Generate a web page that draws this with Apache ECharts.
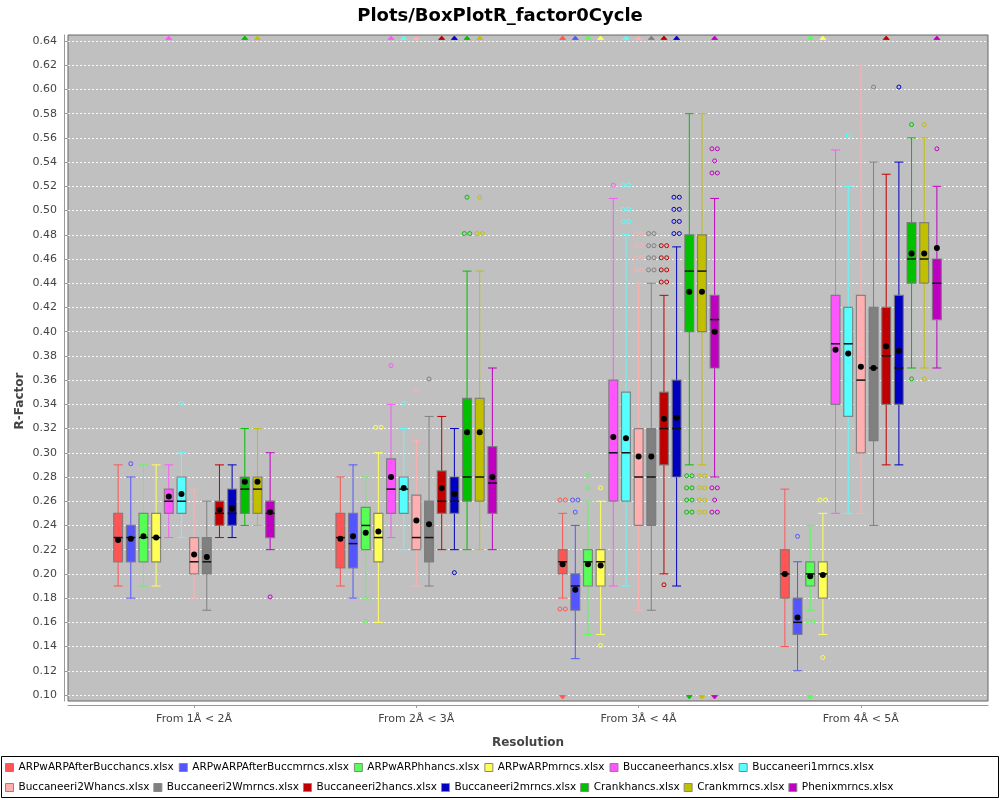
<!DOCTYPE html>
<html><head><meta charset="utf-8">
<script src="https://cdn.jsdelivr.net/npm/echarts@6/dist/echarts.min.js"></script>
<style>html,body{margin:0;padding:0;background:#fff}#c{width:1000px;height:800px}</style>
</head><body><div id="c"></div>
<script>
const categories = ['From 1Å < 2Å', 'From 2Å < 3Å', 'From 3Å < 4Å', 'From 4Å < 5Å'];
const seriesNames = ['ARPwARPAfterBucchancs.xlsx','ARPwARPAfterBuccmrncs.xlsx','ARPwARPhhancs.xlsx','ARPwARPmrncs.xlsx','Buccaneerhancs.xlsx','Buccaneeri1mrncs.xlsx','Buccaneeri2Whancs.xlsx','Buccaneeri2Wmrncs.xlsx','Buccaneeri2hancs.xlsx','Buccaneeri2mrncs.xlsx','Crankhancs.xlsx','Crankmrncs.xlsx','Phenixmrncs.xlsx'];
const seriesColors = ['#FF5555','#5555FF','#55FF55','#FFFF55','#FF55FF','#55FFFF','#FFAFAF','#808080','#C00000','#0000C0','#00C000','#C0C000','#C000C0'];
const yAxisMin = 0.10, yAxisMax = 0.64, yAxisStep = 0.02;

// rows = series (in seriesNames order), columns = categories
const whiskerLow = [
  [0.19,0.19,0.18,0.14],[0.18,0.18,0.13,0.12],[0.19,0.18,0.15,0.17],[0.19,0.16,0.15,0.15],
  [0.23,0.23,0.19,0.25],[0.23,0.22,0.19,0.25],[0.18,0.19,0.17,0.25],[0.17,0.19,0.17,0.24],
  [0.23,0.22,0.20,0.29],[0.23,0.22,0.19,0.29],[0.24,0.22,0.29,0.37],[0.24,0.22,0.29,0.37],
  [0.22,0.22,0.28,0.37]];
const q1 = [
  [0.21,0.205,0.20,0.18],[0.21,0.205,0.17,0.15],[0.21,0.22,0.19,0.19],[0.21,0.21,0.19,0.18],
  [0.25,0.25,0.26,0.34],[0.25,0.25,0.26,0.33],[0.20,0.22,0.24,0.30],[0.20,0.21,0.24,0.31],
  [0.24,0.25,0.29,0.34],[0.24,0.25,0.28,0.34],[0.25,0.26,0.40,0.44],[0.25,0.26,0.40,0.44],
  [0.23,0.25,0.37,0.41]];
const median = [
  [0.23,0.23,0.21,0.20],[0.23,0.225,0.19,0.16],[0.23,0.24,0.21,0.20],[0.23,0.23,0.21,0.20],
  [0.26,0.27,0.30,0.39],[0.26,0.27,0.30,0.39],[0.21,0.23,0.28,0.36],[0.21,0.23,0.28,0.37],
  [0.25,0.26,0.32,0.38],[0.25,0.26,0.32,0.37],[0.27,0.28,0.45,0.46],[0.27,0.28,0.45,0.46],
  [0.25,0.275,0.41,0.44]];
const q3 = [
  [0.25,0.25,0.22,0.22],[0.24,0.25,0.20,0.18],[0.25,0.255,0.22,0.21],[0.25,0.25,0.22,0.21],
  [0.27,0.295,0.36,0.43],[0.28,0.28,0.35,0.42],[0.23,0.265,0.32,0.43],[0.23,0.26,0.32,0.42],
  [0.26,0.285,0.35,0.42],[0.27,0.28,0.36,0.43],[0.28,0.345,0.48,0.49],[0.28,0.345,0.48,0.49],
  [0.26,0.305,0.43,0.46]];
const whiskerHigh = [
  [0.29,0.28,0.25,0.27],[0.28,0.29,0.24,0.21],[0.29,0.28,0.26,0.24],[0.29,0.30,0.26,0.25],
  [0.29,0.34,0.51,0.55],[0.30,0.32,0.48,0.52],[0.27,0.31,0.44,0.62],[0.26,0.33,0.44,0.54],
  [0.29,0.33,0.43,0.53],[0.29,0.32,0.47,0.54],[0.32,0.45,0.58,0.56],[0.32,0.45,0.58,0.56],
  [0.30,0.37,0.51,0.52]];
const mean = [
  [0.228,0.229,0.208,0.200],[0.229,0.231,0.187,0.164],[0.231,0.234,0.208,0.198],[0.230,0.235,0.207,0.199],
  [0.264,0.280,0.313,0.385],[0.266,0.271,0.312,0.382],[0.216,0.244,0.297,0.371],[0.214,0.241,0.297,0.370],
  [0.253,0.271,0.328,0.388],[0.254,0.266,0.329,0.384],[0.276,0.317,0.433,0.4645],[0.276,0.317,0.433,0.4645],
  [0.251,0.280,0.400,0.469]];
// outliers: [seriesIndex, categoryIndex, value, how many at that value]
const outliers = [
  [1,0,0.291,1],[5,0,0.341,1],[12,0,0.181,1],
  [2,1,0.161,1],[3,1,0.321,2],[4,1,0.372,1],[5,1,0.341,1],[6,1,0.352,1],[7,1,0.361,1],[9,1,0.201,1],
  [10,1,0.511,1],[10,1,0.481,2],[11,1,0.511,1],[11,1,0.481,2],
  [0,2,0.261,2],[0,2,0.171,2],[1,2,0.261,2],[1,2,0.251,1],[2,2,0.281,1],[2,2,0.271,1],[3,2,0.271,1],[3,2,0.141,1],
  [4,2,0.521,1],[5,2,0.521,2],[5,2,0.501,2],[5,2,0.491,2],
  [6,2,0.481,2],[6,2,0.471,2],[6,2,0.461,2],[6,2,0.451,2],
  [7,2,0.481,2],[7,2,0.471,2],[7,2,0.461,2],[7,2,0.451,2],
  [8,2,0.191,1],[8,2,0.471,2],[8,2,0.461,2],[8,2,0.451,2],[8,2,0.441,2],
  [9,2,0.511,2],[9,2,0.501,2],[9,2,0.491,2],[9,2,0.481,2],
  [10,2,0.281,2],[10,2,0.271,2],[10,2,0.261,2],[10,2,0.251,2],
  [11,2,0.281,2],[11,2,0.271,2],[11,2,0.261,2],[11,2,0.251,2],
  [12,2,0.551,2],[12,2,0.541,1],[12,2,0.531,2],[12,2,0.271,2],[12,2,0.261,1],[12,2,0.251,2],
  [1,3,0.231,1],[2,3,0.161,2],[3,3,0.261,2],[3,3,0.131,1],[5,3,0.562,1],[7,3,0.602,1],[9,3,0.602,1],
  [10,3,0.571,1],[10,3,0.361,1],[11,3,0.571,1],[11,3,0.361,1],[12,3,0.551,1]];
// far outliers beyond the axis range: [seriesIndex, categoryIndex]
const farAbove = [[4,0],[10,0],[11,0],
  [4,1],[5,1],[6,1],[8,1],[9,1],[10,1],[11,1],
  [0,2],[1,2],[2,2],[3,2],[5,2],[6,2],[7,2],[8,2],[9,2],[12,2],
  [2,3],[3,3],[8,3],[12,3]];
const farBelow = [[0,2],[10,2],[11,2],[12,2],[2,3]];

const FONT = 'DejaVu Sans';
const nSeries = seriesNames.length;

function renderBox(si) {
  const col = seriesColors[si];
  return function (params, api) {
    const c = api.value(0);
    const band = api.size([1, 0])[0];
    const cx = api.coord([c, api.value(3)])[0];
    const x = cx + (si - (nSeries - 1) / 2) * band * 0.057;
    const bw = band * 0.040;
    const yLo = api.coord([c, api.value(1)])[1];
    const yQ1 = api.coord([c, api.value(2)])[1];
    const yMed = api.coord([c, api.value(3)])[1];
    const yQ3 = api.coord([c, api.value(4)])[1];
    const yHi = api.coord([c, api.value(5)])[1];
    const yMean = api.coord([c, api.value(6)])[1];
    const ch = [];
    const ln = (x1, y1, x2, y2, stroke, w) => ({type: 'line', shape: {x1, y1, x2, y2}, style: {stroke, lineWidth: w || 1}});
    ch.push(ln(x, yHi, x, yQ3, col));
    ch.push(ln(x, yQ1, x, yLo, col));
    ch.push(ln(x - bw / 2, yHi, x + bw / 2, yHi, col));
    ch.push(ln(x - bw / 2, yLo, x + bw / 2, yLo, col));
    ch.push({type: 'rect', shape: {x: x - bw / 2, y: yQ3, width: bw, height: yQ1 - yQ3},
      style: {fill: col, stroke: 'rgba(120,120,120,0.85)', lineWidth: 1.2}});
    ch.push(ln(x - bw / 2, yMed, x + bw / 2, yMed, '#111', 1.5));
    ch.push({type: 'circle', shape: {cx: x, cy: yMean, r: 3}, style: {fill: '#000'}});
    outliers.forEach(o => {
      if (o[0] !== si || o[1] !== c) return;
      const oy = api.coord([c, o[2]])[1];
      for (let k = 0; k < o[3]; k++) {
        const ox = x + (k - (o[3] - 1) / 2) * 5.4;
        ch.push({type: 'circle', shape: {cx: ox, cy: oy, r: 2}, style: {fill: 'none', stroke: col, lineWidth: 1}});
      }
    });
    const yTop = api.coord([c, yAxisMax])[1] - 3;
    const yBot = api.coord([c, yAxisMin])[1] + 2;
    farAbove.forEach(f => {
      if (f[0] !== si || f[1] !== c) return;
      ch.push({type: 'polygon', shape: {points: [[x, yTop - 2], [x - 3, yTop + 1.5], [x + 3, yTop + 1.5]]},
        style: {fill: col, stroke: col, lineWidth: 0.8}});
    });
    farBelow.forEach(f => {
      if (f[0] !== si || f[1] !== c) return;
      ch.push({type: 'polygon', shape: {points: [[x, yBot + 2], [x - 3, yBot - 1.5], [x + 3, yBot - 1.5]]},
        style: {fill: col, stroke: col, lineWidth: 0.8}});
    });
    return {type: 'group', children: ch};
  };
}

const series = seriesNames.map((name, si) => ({
  name, type: 'custom', xAxisIndex: 2, yAxisIndex: 2, clip: false,
  color: seriesColors[si], itemStyle: {color: seriesColors[si]},
  encode: {x: 0, y: [1, 2, 3, 4, 5, 6]},
  renderItem: renderBox(si),
  data: categories.map((cat, ci) => [ci, whiskerLow[si][ci], q1[si][ci], median[si][ci], q3[si][ci], whiskerHigh[si][ci], mean[si][ci]])
}));

const legendCommon = {
  left: 5, padding: 0, icon: 'rect', itemWidth: 8, itemHeight: 8,
  textStyle: {fontFamily: FONT, fontSize: 10.5, color: '#000'},
  itemStyle: {borderColor: '#888', borderWidth: 1}, selectedMode: false
};

const chart = echarts.init(document.getElementById('c'), null, {renderer: 'canvas'});
chart.setOption({
  animation: false,
  backgroundColor: '#fff',
  title: {text: 'Plots/BoxPlotR_factor0Cycle', left: 'center', top: 2,
    textStyle: {fontFamily: FONT, fontSize: 18, fontWeight: 'bold', color: '#000'}},
  legend: [
    Object.assign({}, legendCommon, {top: 762, itemGap: 5, data: seriesNames.slice(0, 6)}),
    Object.assign({}, legendCommon, {top: 782, itemGap: 4, data: seriesNames.slice(6)})
  ],
  graphic: [{type: 'rect', shape: {x: 1.5, y: 756.5, width: 997, height: 41}, style: {fill: 'none', stroke: '#000', lineWidth: 1}, z: 100}],
  grid: [
    {left: 68, top: 35, width: 920, height: 666, show: true, backgroundColor: '#c0c0c0', borderColor: '#666', borderWidth: 1},
    {left: 68, top: 41, width: 920, height: 654},
    {left: 83, top: 41, width: 889, height: 654}
  ],
  xAxis: [
    {type: 'value', gridIndex: 0, min: 0, max: 1, offset: 4,
     axisLine: {show: true, onZero: false, lineStyle: {color: '#999'}}, axisTick: {show: false}, axisLabel: {show: false}, splitLine: {show: false},
     name: 'Resolution', nameLocation: 'middle', nameGap: 32,
     nameTextStyle: {fontFamily: FONT, fontSize: 12, fontWeight: 'bold', color: '#444'}},
    {type: 'value', gridIndex: 1, min: 0, max: 1, show: false},
    {type: 'category', gridIndex: 2, data: categories, offset: 10,
     axisLine: {show: false}, axisTick: {show: true, alignWithLabel: true, length: 3, lineStyle: {color: '#999'}},
     axisLabel: {margin: 9, fontFamily: FONT, fontSize: 11, color: '#444'}, splitLine: {show: false}}
  ],
  yAxis: [
    {type: 'value', gridIndex: 0, min: 0, max: 1, offset: 4,
     axisLine: {show: true, onZero: false, lineStyle: {color: '#999'}}, axisTick: {show: false}, axisLabel: {show: false}, splitLine: {show: false},
     name: 'R-Factor', nameLocation: 'middle', nameGap: 38,
     nameTextStyle: {fontFamily: FONT, fontSize: 12, fontWeight: 'bold', color: '#444', padding: [0, 66, 0, 0]}},
    {type: 'value', gridIndex: 1, min: yAxisMin, max: yAxisMax, interval: yAxisStep, offset: 4,
     axisLine: {show: false}, axisTick: {show: true, length: 4, lineStyle: {color: '#999'}},
     axisLabel: {margin: 7, fontFamily: FONT, fontSize: 11, color: '#444', formatter: v => v.toFixed(2)},
     splitLine: {show: true, lineStyle: {color: 'rgba(255,255,255,0.9)', width: 1, type: [2, 2]}}},
    {type: 'value', gridIndex: 2, min: yAxisMin, max: yAxisMax, show: false}
  ],
  series
});
</script></body></html>
